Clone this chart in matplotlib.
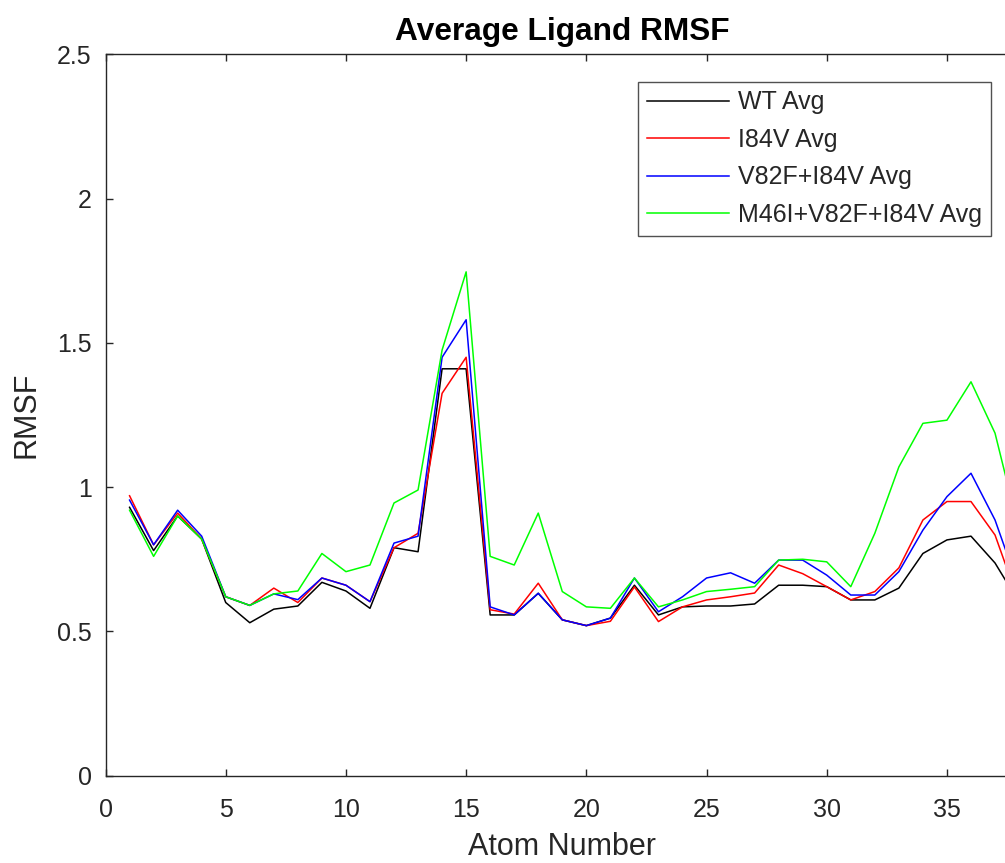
import numpy as np
import matplotlib
matplotlib.use("Agg")
import matplotlib.pyplot as plt

plt.rcParams["font.family"] = ["Liberation Sans", "DejaVu Sans"]

atoms = np.arange(1, 39)

wt_avg = [0.93, 0.78, 0.90, 0.82, 0.60, 0.53, 0.577, 0.588, 0.67, 0.64,
          0.58, 0.79, 0.776, 1.41, 1.41, 0.557, 0.557, 0.632, 0.54, 0.52,
          0.546, 0.66, 0.557, 0.585, 0.588, 0.588, 0.595, 0.66, 0.66, 0.655,
          0.609, 0.609, 0.65, 0.77, 0.817, 0.83, 0.737, 0.60]

i84v_avg = [0.97, 0.80, 0.91, 0.82, 0.62, 0.59, 0.65, 0.60, 0.685, 0.66,
            0.603, 0.79, 0.84, 1.325, 1.45, 0.575, 0.56, 0.667, 0.54, 0.52,
            0.535, 0.654, 0.534, 0.585, 0.609, 0.62, 0.633, 0.73, 0.70, 0.655,
            0.609, 0.638, 0.72, 0.886, 0.95, 0.95, 0.834, 0.60]

v82f_i84v_avg = [0.955, 0.80, 0.92, 0.83, 0.62, 0.59, 0.63, 0.61, 0.685, 0.66,
                 0.603, 0.806, 0.83, 1.45, 1.58, 0.585, 0.557, 0.632, 0.54, 0.52,
                 0.546, 0.685, 0.568, 0.62, 0.685, 0.703, 0.667, 0.747, 0.747, 0.695,
                 0.626, 0.626, 0.707, 0.851, 0.967, 1.048, 0.886, 0.65]

m46i_v82f_i84v_avg = [0.92, 0.76, 0.90, 0.82, 0.62, 0.59, 0.63, 0.64, 0.77, 0.707,
                      0.73, 0.945, 0.99, 1.475, 1.746, 0.76, 0.73, 0.91, 0.638, 0.585,
                      0.58, 0.685, 0.585, 0.609, 0.638, 0.646, 0.655, 0.747, 0.75, 0.741,
                      0.655, 0.84, 1.07, 1.221, 1.232, 1.365, 1.187, 0.85]

series = [
    ("WT Avg", wt_avg, "#000000"),
    ("I84V Avg", i84v_avg, "#ff0000"),
    ("V82F+I84V Avg", v82f_i84v_avg, "#0000ff"),
    ("M46I+V82F+I84V Avg", m46i_v82f_i84v_avg, "#00ff00"),
]

axis_color = "#262626"

fig = plt.figure(figsize=(10.05, 8.63), dpi=100)
ax = fig.add_axes([0.105, 0.1012, 0.909, 0.8359])

for label, values, color in series:
    ax.plot(atoms, values, color=color, linewidth=1.1, label=label)

ax.set_xlim(0, 38)
ax.set_ylim(0, 2.5)
ax.set_xticks(np.arange(0, 36, 5))
ax.set_yticks([0, 0.5, 1, 1.5, 2, 2.5])
ax.set_yticklabels(["0", "0.5", "1", "1.5", "2", "2.5"])

for spine in ax.spines.values():
    spine.set_color(axis_color)
    spine.set_linewidth(1.0)

ax.tick_params(axis="both", direction="in", length=5, width=1.0,
               colors=axis_color, labelsize=18, top=True, right=True)
ax.tick_params(axis="x", pad=16)
ax.tick_params(axis="y", pad=10)

ax.set_xlabel("Atom Number", fontsize=22, color=axis_color)
ax.set_ylabel("RMSF", fontsize=22, color=axis_color)
ax.xaxis.set_label_coords(0.5, -0.078)
ax.yaxis.set_label_coords(-0.070, 0.5)
ax.set_title("Average Ligand RMSF", fontsize=22.8, fontweight="bold",
             color="#000000", pad=10.5)

leg = ax.legend(loc="upper right", bbox_to_anchor=(0.986, 0.9053),
                bbox_transform=fig.transFigure, borderaxespad=0,
                fontsize=18, handlelength=3.3, handletextpad=0.35,
                labelspacing=0.54, borderpad=0.35, frameon=True,
                fancybox=False, edgecolor=axis_color)
leg.get_frame().set_linewidth(1.0)
for text in leg.get_texts():
    text.set_color(axis_color)

plt.savefig("out.png", dpi=100)
plt.close()
